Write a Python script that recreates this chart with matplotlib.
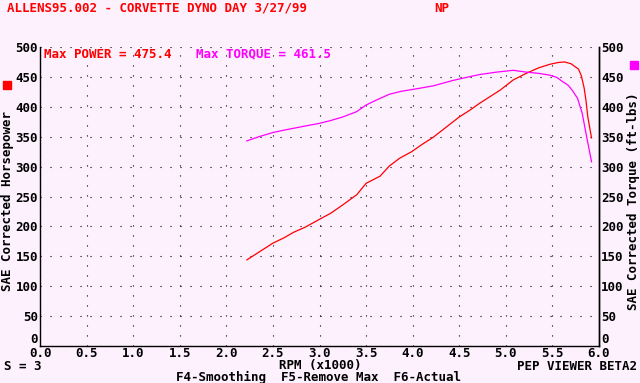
import matplotlib
matplotlib.use("Agg")
import matplotlib.pyplot as plt
from matplotlib.patches import Rectangle
from matplotlib.transforms import ScaledTranslation

# ---- data ----
rpm_hp = [2.22, 2.35, 2.50, 2.62, 2.72, 2.85, 2.99, 3.12, 3.25, 3.40, 3.50, 3.65, 3.75,
          3.86, 3.99, 4.10, 4.22, 4.36, 4.50, 4.62, 4.72, 4.84, 4.94, 5.08, 5.22, 5.35,
          5.47, 5.56, 5.63, 5.70, 5.78, 5.81, 5.84, 5.86, 5.88, 5.92]
hp = [144, 157, 172, 181, 190, 199, 211, 222, 236, 253, 272, 284, 301,
      314, 325, 337, 349, 366, 383, 395, 406, 418, 428, 445, 456, 465,
      471, 474, 475, 472, 463, 452, 432, 411, 383, 348]

rpm_tq = [2.22, 2.35, 2.50, 2.62, 2.72, 2.85, 2.99, 3.12, 3.25, 3.40, 3.50, 3.62, 3.75,
          3.88, 4.00, 4.22, 4.43, 4.60, 4.72, 4.90, 5.08, 5.22, 5.35, 5.47, 5.55,
          5.61, 5.67, 5.72, 5.77, 5.82, 5.86, 5.92]
tq = [343, 350, 357, 361, 364, 368, 372, 377, 383, 392, 403, 412, 421,
      426, 429, 435, 444, 450, 454, 458, 461, 458, 456, 453, 449,
      442, 436, 426, 414, 389, 356, 308]

x_ticks = [0.0, 0.5, 1.0, 1.5, 2.0, 2.5, 3.0, 3.5, 4.0, 4.5, 5.0, 5.5, 6.0]
y_ticks = list(range(0, 501, 50))

max_power = 475.4
max_torque = 461.5

# ---- style ----
W, H = 640, 383
bg = "#fcf1fc"
red = "#ff0000"
mag = "#ff00ff"
font = dict(family="DejaVu Sans Mono", weight="bold", size=9)

fig = plt.figure(figsize=(W / 100, H / 100), dpi=100, facecolor=bg)

def px(x, y):
    return x / W, 1 - y / H

left, right, top, bottom = 40, 599, 47, 346
ax = fig.add_axes([left / W, 1 - bottom / H, (right - left) / W, (bottom - top) / H])
ax.set_facecolor(bg)
ax.set_xlim(0, 6)
ax.set_ylim(0, 500)
ax.set_xticks(x_ticks)
ax.set_xticklabels([f"{v:.1f}" for v in x_ticks], **font)
ax.set_yticks(y_ticks)
ax.set_yticklabels([str(v) for v in y_ticks], **font)
ax.tick_params(axis="y", length=0, pad=1.5)
ax.tick_params(axis="x", length=0, pad=0.5)
for s in ["left", "right", "bottom"]:
    ax.spines[s].set_linewidth(1)
    ax.spines[s].set_color("black")
ax.spines["top"].set_visible(False)
ax.grid(True, color="black", linewidth=0.8, linestyle=(0, (1, 8)))
ax.set_axisbelow(True)

ax2 = ax.twinx()
ax2.set_ylim(0, 500)
ax2.set_yticks(y_ticks)
ax2.set_yticklabels([str(v) for v in y_ticks], **font)
ax2.tick_params(length=0, pad=1.5)
for s in ["left", "top", "bottom"]:
    ax2.spines[s].set_visible(False)
ax2.spines["right"].set_linewidth(1)

# the "0" labels sit a little above the baseline, clear of the rpm labels
lift = ScaledTranslation(0, 6 / 72, fig.dpi_scale_trans)
for a in (ax, ax2):
    lbl = a.get_yticklabels()[0]
    lbl.set_transform(lbl.get_transform() + lift)

ax.plot(rpm_hp, hp, color=red, linewidth=0.9)
ax2.plot(rpm_tq, tq, color=mag, linewidth=0.9)

# ---- texts ----
fig.text(*px(7, 8), "ALLENS95.002 - CORVETTE DYNO DAY 3/27/99", color=red, va="center", **font)
fig.text(*px(434, 8), "NP", color=red, va="center", **font)
fig.text(*px(44, 54), f"Max POWER = {max_power}", color=red, va="center", **font)
fig.text(*px(196, 54), f"Max TORQUE = {max_torque}", color=mag, va="center", **font)
fig.text(*px(8, 201), "SAE Corrected Horsepower", rotation=90, ha="center", va="center", **font)
fig.text(*px(633, 201), "SAE Corrected Torque (ft-lbs)", rotation=90, ha="center", va="center", **font)
fig.text(*px(4, 366), "S = 3", va="center", **font)
fig.text(*px(320, 366), "RPM (x1000)", ha="center", va="center", **font)
fig.text(*px(637, 366), "PEP VIEWER BETA2", ha="right", va="center", **font)
fig.text(*px(319, 377.5), "F4-Smoothing  F5-Remove Max  F6-Actual", ha="center", va="center", **font)

# colour keys
fig.patches.append(Rectangle(px(3, 89), 8 / W, 8 / H, transform=fig.transFigure, color=red))
fig.patches.append(Rectangle(px(630, 69), 8 / W, 8 / H, transform=fig.transFigure, color=mag))

fig.savefig("out.png", dpi=100, facecolor=bg)
